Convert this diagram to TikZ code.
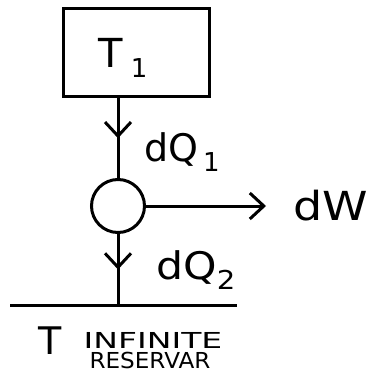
\documentclass[tikz,border=0pt]{standalone}
\usepackage{fontspec}
\setsansfont{DejaVu Sans}
\usetikzlibrary{arrows.meta,decorations.markings}
\tikzset{
  wire/.style={line width=3pt},
  midarrow/.style={wire,postaction={decorate},decoration={markings,
     mark=at position 0.5 with {\arrow[line width=3pt]{Straight Barb[length=14pt,width=26pt]}}}},
  lbl/.style={inner sep=0pt,font=\sffamily},
}
\newcommand{\subsc}[1]{\raisebox{-0.25em}{\fontsize{26}{26}\selectfont #1}}
\begin{document}
\begin{tikzpicture}[x=1pt,y=-1pt]
\useasboundingbox (0,0) rectangle (377,374);
\node[draw,wire,minimum width=146pt,minimum height=88pt,inner sep=0pt] (hot) at (136,53) {};
\node[lbl] (t1) at (123,58) {\fontsize{40}{40}\selectfont T\hspace{8pt}\subsc{1}};
\node[draw,wire,circle,minimum size=53pt,inner sep=0pt] (eng) at (118,206) {};
\coordinate (g1) at (10,305);
\coordinate (g2) at (237,305);
\coordinate (wend) at (266,206);
\draw[midarrow] (hot.south -| eng.north) -- (eng.north);
\draw[midarrow] (eng.south) -- (eng.south |- g1);
\draw[wire] (g1) -- (g2);
\draw[wire,-{Straight Barb[length=14pt,width=26pt]}] (eng.east) -- (wend);
\node[lbl] (dq1) at (182,152) {\fontsize{38}{38}\selectfont dQ\hspace{5pt}\subsc{1}};
\node[lbl] (dw) at (331,206) {\scalebox{1.15}[1]{\fontsize{40}{40}\selectfont dW}};
\node[lbl] (dq2) at (196,270) {\scalebox{1.12}[1]{\fontsize{38}{38}\selectfont dQ\subsc{2}}};
\node[lbl] (tt) at (50,341) {\fontsize{38}{38}\selectfont T};
\node[lbl] (inf) at (153,340) {\scalebox{1.5}[1]{\fontsize{22}{22}\selectfont INFINITE}};
\node[lbl] (res) at (150,360) {\scalebox{1.05}[1]{\fontsize{22}{22}\selectfont RESERVAR}};
\end{tikzpicture}
\end{document}
